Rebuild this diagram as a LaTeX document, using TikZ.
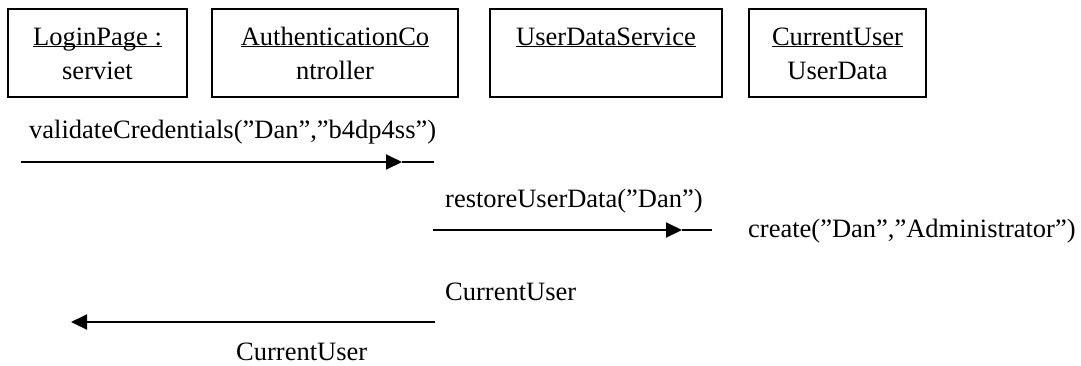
\documentclass[tikz,border=0pt]{standalone}
\usepackage{fontspec}
\setmainfont{Liberation Serif}
\usetikzlibrary{arrows.meta}
\newcommand{\objnode}[5]{%
  \node[draw,line width=1.3pt,minimum width=#3pt,minimum height=88pt] (#1) at (#2,53) {};
  \node[anchor=base] (#1-top) at (#2,45) {\underline{\smash{#4}}};
  \node[anchor=base] (#1-bot) at (#2,79) {#5};
}

\begin{document}
\begin{tikzpicture}[x=1pt,y=-1pt,font=\fontsize{26.5}{31}\selectfont,
  msg/.style={anchor=base west,inner sep=0pt},
  tip/.style={-{Triangle[length=16pt,width=15pt]}}]
  \useasboundingbox (0,0) rectangle (1081,365);

  \objnode{login}{97.5}{179}{LoginPage :}{serviet}
  \objnode{auth}{335}{246}{AuthenticationCo}{ntroller}
  \objnode{uds}{606}{232}{UserDataService}{}
  \objnode{cur}{837.5}{177}{CurrentUser}{UserData}

  \node[msg] (validate) at (29,138) {validateCredentials(”Dan”,”b4dp4ss”)};
  \node[msg] (restore) at (445,207) {restoreUserData(”Dan”)};
  \node[msg] (create) at (748,237) {create(”Dan”,”Administrator”)};
  \node[msg] (ret1) at (445,300) {CurrentUser};
  \node[msg] (ret2) at (236,360) {CurrentUser};

  \coordinate (v0) at (21,162);
  \coordinate (v1) at (402,162);
  \coordinate (v2) at (434,162);
  \coordinate (r0) at (433,230);
  \coordinate (r1) at (682,230);
  \coordinate (r2) at (712,230);
  \coordinate (c0) at (435,322);
  \coordinate (c1) at (71,322);

  \draw[tip,line width=2pt] (v0) -- (v1);
  \draw[line width=1.5pt] (v1) -- (v2);
  \draw[tip,line width=2pt] (r0) -- (r1);
  \draw[line width=1.5pt] (r1) -- (r2);
  \draw[tip,line width=2pt] (c0) -- (c1);
\end{tikzpicture}
\end{document}
